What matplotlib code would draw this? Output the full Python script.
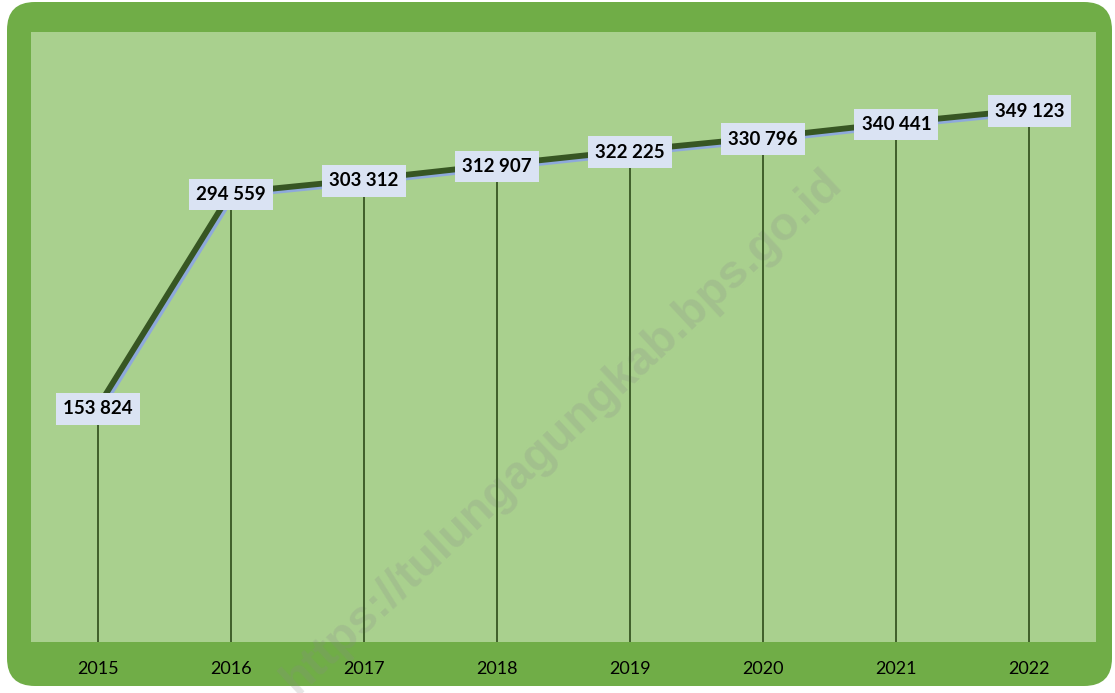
import matplotlib.pyplot as plt
import matplotlib.patheffects as pe
from matplotlib.patches import FancyBboxPatch

years = ['2015', '2016', '2017', '2018', '2019', '2020', '2021', '2022']
values = [153824, 294559, 303312, 312907, 322225, 330796, 340441, 349123]
labels = ['153 824', '294 559', '303 312', '312 907', '322 225', '330 796', '340 441', '349 123']

W, H = 1115, 693
fig = plt.figure(figsize=(W / 100, H / 100), dpi=100)
fig.patch.set_facecolor('white')

# rounded green frame
frame = FancyBboxPatch((7 / W, 7 / H), (W - 10) / W, (H - 9) / H,
                       boxstyle='round,pad=0,rounding_size=0.025',
                       transform=fig.transFigure, facecolor='#70AD47',
                       edgecolor='none', zorder=-1, mutation_aspect=W / H)
fig.patches.append(frame)

ax = fig.add_axes([31 / W, 1 - 642 / H, 1065 / W, 610 / H])
ax.set_zorder(1)
ax.set_facecolor('#A9D08E')
x = list(range(len(years)))
ax.set_xlim(-0.5, len(years) - 0.5)
ax.set_ylim(0, 400000)

# watermark (under the lines, spills over the frame)
ax.text(562 / W, 1 - 432 / H, 'https://tulungagungkab.bps.go.id', rotation=43,
        rotation_mode='anchor', ha='center', va='center', fontsize=34,
        fontweight='bold', family='Liberation Sans', color='#8a8a8a', alpha=0.22,
        transform=fig.transFigure, clip_on=False, zorder=1)

# drop lines
ax.vlines(x, 0, values, color='#375623', lw=1.3, zorder=2)

ax.plot(x, values, color='#375623', lw=4.2, solid_capstyle='butt', zorder=3,
        path_effects=[pe.SimpleLineShadow(offset=(1.7, -1.7), shadow_color='#8EA9DB', alpha=1),
                      pe.Normal()])

for xi, v, lab in zip(x, values, labels):
    ax.text(xi, v, lab, ha='center', va='center_baseline', fontsize=13.5, fontweight='bold',
            family='Lato', color='black', zorder=5,
            bbox=dict(boxstyle='square,pad=0.38', facecolor='#DAE3F3', edgecolor='none'))

ax.set_yticks([])
ax.set_xticks(x)
ax.set_xticklabels(years, family='Lato', fontsize=13, color='black')
ax.tick_params(axis='x', length=0, pad=14)
for s in ax.spines.values():
    s.set_visible(False)

fig.savefig('out.png', dpi=100)
